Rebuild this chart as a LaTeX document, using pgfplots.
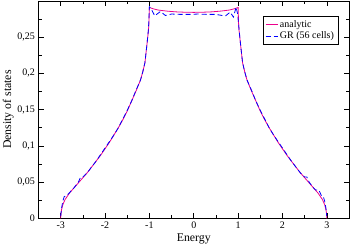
\documentclass[border=0pt]{standalone}
\usepackage{fontspec}
\setmainfont{Liberation Serif}
\usepackage{pgfplots}
\pgfplotsset{compat=1.18}
\begin{document}
\begin{tikzpicture}
\begin{axis}[
  scale only axis,
  width=310.5pt, height=217.3pt,
  xmin=-3.5, xmax=3.5, ymin=0, ymax=0.3,
  xtick={-3,-2,-1,0,1,2,3},
  xticklabels={-3,-2,-1,0,1,2,3},
  minor xtick={-3.5,-2.5,-1.5,-0.5,0.5,1.5,2.5,3.5},
  ytick={0,0.05,0.1,0.15,0.2,0.25},
  yticklabels={0,{0,05},{0,1},{0,15},{0,2},{0,25}},
  minor ytick={0.025,0.075,0.125,0.175,0.225,0.275},
  tick align=inside,
  major tick length=5pt, minor tick length=3pt,
  tick style={black, line width=0.6pt},
  axis line style={line width=0.8pt},
  ticklabel style={font=\fontsize{10}{12}\selectfont},
  xlabel={Energy}, ylabel={Density of states},
  label style={font=\fontsize{11.8}{13}\selectfont},
  xlabel style={yshift=1.5pt},
  ylabel style={yshift=-3pt},
  legend style={draw=black, line width=0.6pt, at={(0.965,0.931)}, anchor=north east,
    font=\fontsize{10}{12}\selectfont, inner sep=2pt, row sep=-1pt},
  legend cell align=left,
  legend image code/.code={\draw[#1] (0pt,0pt) -- (12pt,0pt);},
]
\addplot[color=magenta, line width=0.8pt] coordinates {
(-3.0,0) (-2.99,0.008) (-2.98,0.012) (-2.95,0.019) (-2.9,0.026) (-2.8,0.035) (-2.7,0.042)
(-2.6,0.049) (-2.5,0.056) (-2.4,0.063) (-2.3,0.071) (-2.2,0.079) (-2.1,0.087) (-2.0,0.096)
(-1.9,0.105) (-1.8,0.115) (-1.7,0.125) (-1.6,0.136) (-1.5,0.148) (-1.4,0.162) (-1.3,0.176)
(-1.2,0.191) (-1.15,0.202) (-1.1,0.215) (-1.05,0.243) (-1.02,0.260) (-1.01,0.270) (-1.0,0.291)
(-0.9,0.289) (-0.8,0.2875) (-0.6,0.286) (-0.4,0.285) (-0.2,0.2845) (0,0.2843)
(0.2,0.2845) (0.4,0.285) (0.6,0.286) (0.8,0.2875) (0.9,0.289)
(1.0,0.291) (1.01,0.270) (1.02,0.260) (1.05,0.243) (1.1,0.215) (1.15,0.202) (1.2,0.191)
(1.3,0.176) (1.4,0.162) (1.5,0.148) (1.6,0.136) (1.7,0.125) (1.8,0.115) (1.9,0.105)
(2.0,0.096) (2.1,0.087) (2.2,0.079) (2.3,0.071) (2.4,0.063) (2.5,0.056) (2.6,0.049)
(2.7,0.042) (2.8,0.035) (2.9,0.026) (2.95,0.019) (2.98,0.012) (2.99,0.008) (3.0,0)
};
\addlegendentry{analytic}
\addplot[color=blue, line width=0.8pt, dash pattern=on 5pt off 3pt] coordinates {
(-3.0,0.003) (-2.98,0.014) (-2.95,0.024) (-2.92,0.030) (-2.88,0.031) (-2.82,0.034)
(-2.75,0.039) (-2.7,0.042) (-2.6,0.050) (-2.55,0.057) (-2.5,0.057) (-2.4,0.063) (-2.3,0.071)
(-2.2,0.079) (-2.1,0.088) (-2.0,0.097) (-1.9,0.106) (-1.8,0.115) (-1.7,0.125) (-1.6,0.137)
(-1.5,0.149) (-1.4,0.162) (-1.3,0.177) (-1.2,0.191) (-1.15,0.202) (-1.1,0.215) (-1.05,0.243)
(-1.02,0.262) (-1.0,0.292) (-0.95,0.288) (-0.88,0.2796) (-0.75,0.2855) (-0.64,0.280)
(-0.5,0.282) (-0.3,0.2815) (-0.1,0.2815) (0.1,0.282) (0.3,0.2815) (0.5,0.2815) (0.64,0.280)
(0.72,0.2796) (0.82,0.2846) (0.894,0.2778) (0.955,0.2915) (0.99,0.282) (1.0,0.275)
(1.02,0.262) (1.05,0.243) (1.1,0.215) (1.15,0.202) (1.2,0.191) (1.3,0.177) (1.4,0.162)
(1.5,0.149) (1.6,0.137) (1.7,0.125) (1.8,0.115) (1.9,0.106) (2.0,0.097) (2.1,0.088)
(2.2,0.079) (2.3,0.071) (2.4,0.063) (2.5,0.057) (2.55,0.057) (2.6,0.050) (2.7,0.042)
(2.75,0.039) (2.82,0.039) (2.88,0.031) (2.92,0.030) (2.95,0.024) (2.98,0.014) (3.0,0.003)
};
\addlegendentry{GR (56 cells)}
\end{axis}
\pgfresetboundingbox
\useasboundingbox ([shift={(-38.5pt,-26.7pt)}]current axis.south west) rectangle ([shift={(1pt,1pt)}]current axis.north east);
\end{tikzpicture}
\end{document}
